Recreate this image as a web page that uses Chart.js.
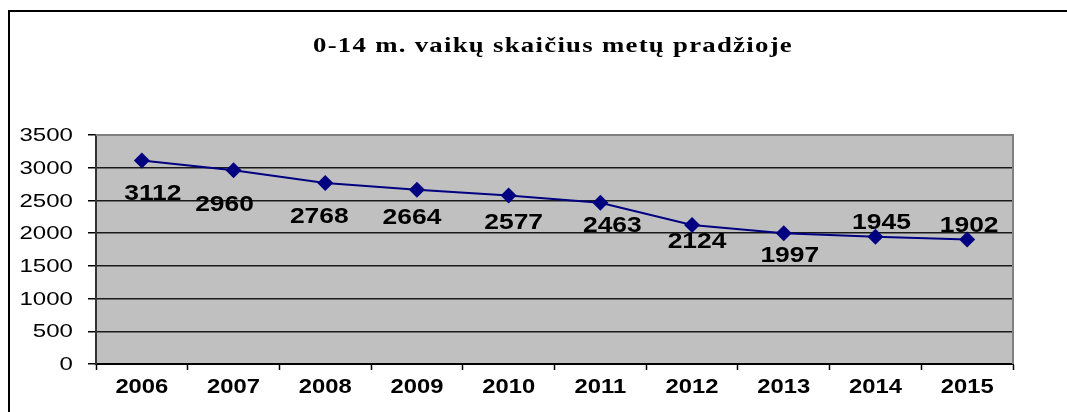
<!DOCTYPE html>
<html>
<head>
<meta charset="utf-8">
<script src="https://cdn.jsdelivr.net/npm/chart.js@4/dist/chart.umd.min.js"></script>
<style>
  html, body { margin: 0; padding: 0; background: #fff; }
  #wrap { width: 1067px; height: 412px; }
</style>
</head>
<body>
<div id="wrap"><canvas id="vaikaiChart"></canvas></div>
<script>
// duomenys
const titleText = '0-14 m. vaikų skaičius metų pradžioje';
const years = ['2006', '2007', '2008', '2009', '2010', '2011', '2012', '2013', '2014', '2015'];
const children = [3112, 2960, 2768, 2664, 2577, 2463, 2124, 1997, 1945, 1902];
const yTicks = [0, 500, 1000, 1500, 2000, 2500, 3000, 3500];

// kur dėti skaičių šalia taško (dx, dy nuo taško centro)
const labelOffsets = [[11, 33], [-9, 34], [-6, 33], [-5, 27], [5, 27], [12, 22], [5, 16], [6, 22], [6, -15], [2, -15]];

const NAVY = '#000080';
const SANS = '"Liberation Sans", Arial, sans-serif';

// tekstas ištemptas horizontaliai, kaip originale
function stretchedText(ctx, text, x, y, font, align, sx) {
    ctx.save();
    ctx.font = font;
    ctx.fillStyle = '#000';
    ctx.textAlign = align;
    ctx.textBaseline = 'middle';
    ctx.translate(x, y);
    ctx.scale(sx, 1);
    ctx.fillText(text, 0, 0);
    ctx.restore();
}

const decorPlugin = {
    id: 'decor',
    beforeDraw(chart) {
        const ctx = chart.ctx;
        const a = chart.chartArea;
        ctx.save();
        ctx.fillStyle = '#fff';
        ctx.fillRect(0, 0, chart.width, chart.height);
        // išorinis rėmelis
        ctx.strokeStyle = '#000';
        ctx.lineWidth = 2;
        ctx.beginPath();
        ctx.moveTo(9, chart.height + 2);
        ctx.lineTo(9, 11);
        ctx.lineTo(chart.width + 2, 11);
        ctx.stroke();
        // pilkas fonas
        ctx.fillStyle = '#c0c0c0';
        ctx.fillRect(a.left, a.top, a.right - a.left, a.bottom - a.top);
        ctx.restore();

        // pavadinimas
        ctx.save();
        ctx.font = 'bold 21px "Liberation Serif", "Times New Roman", serif';
        ctx.letterSpacing = '1px';
        const w = ctx.measureText(titleText).width;
        ctx.restore();
        ctx.save();
        ctx.letterSpacing = '1px';
        stretchedText(ctx, titleText, 553, 47, 'bold 21px "Liberation Serif", "Times New Roman", serif', 'center', 480 / w);
        ctx.restore();
    },
    beforeDatasetsDraw(chart) {
        const ctx = chart.ctx;
        const a = chart.chartArea;
        ctx.save();
        ctx.strokeStyle = '#808080';
        ctx.lineWidth = 2;
        ctx.beginPath();
        ctx.moveTo(a.left, a.top);
        ctx.lineTo(a.right, a.top);
        ctx.lineTo(a.right, a.bottom);
        ctx.stroke();
        ctx.restore();
    },
    afterDraw(chart) {
        const ctx = chart.ctx;
        const xs = chart.scales.x;
        const ys = chart.scales.y;
        // ašių užrašai
        yTicks.forEach(v => {
            stretchedText(ctx, String(v), 73, ys.getPixelForValue(v) + 1, '18.5px ' + SANS, 'right', 1.3);
        });
        years.forEach((yr, i) => {
            stretchedText(ctx, yr, xs.getPixelForValue(i), 388, 'bold 19.5px ' + SANS, 'center', 1.22);
        });
        // reikšmės prie taškų
        const meta = chart.getDatasetMeta(0);
        meta.data.forEach((pt, i) => {
            const off = labelOffsets[i];
            stretchedText(ctx, String(children[i]), pt.x + off[0], pt.y + off[1] + 1, 'bold 22px ' + SANS, 'center', 1.2);
        });
    }
};

const ctx = document.getElementById('vaikaiChart').getContext('2d');
const vaikaiChart = new Chart(ctx, {
    type: 'line',
    data: {
        labels: years,
        datasets: [{
            label: 'Vaikai 0-14 m.',
            data: children,
            borderColor: NAVY,
            backgroundColor: NAVY,
            borderWidth: 2,
            tension: 0,
            pointStyle: 'rectRot',
            pointRadius: 8,
            pointHoverRadius: 8,
            pointBackgroundColor: NAVY,
            pointBorderColor: NAVY,
            pointBorderWidth: 0
        }]
    },
    options: {
        responsive: true,
        maintainAspectRatio: false,
        animation: false,
        layout: {
            padding: { left: 0, right: 54, top: 135, bottom: 0 }
        },
        plugins: {
            legend: { display: false },
            title: { display: false },
            tooltip: { enabled: false }
        },
        scales: {
            x: {
                type: 'category',
                offset: true,
                grid: {
                    offset: true,
                    drawOnChartArea: false,
                    drawTicks: true,
                    tickLength: 6,
                    tickColor: '#000',
                    tickWidth: 1.5
                },
                border: { display: true, color: '#000', width: 2 },
                ticks: { display: false },
                afterFit(scale) { scale.height = 48; }
            },
            y: {
                min: 0,
                max: 3500,
                afterBuildTicks(scale) { scale.ticks = yTicks.map(v => ({ value: v })); },
                grid: {
                    color: (c) => c.tick && c.tick.value === 3500 ? 'rgba(0,0,0,0)' : '#1a1a1a',
                    lineWidth: 1.5,
                    drawTicks: true,
                    tickLength: 8,
                    tickColor: '#000',
                    tickWidth: 1.5
                },
                border: { display: true, color: '#333', width: 2 },
                ticks: { display: false },
                afterFit(scale) { scale.width = 96; }
            }
        }
    },
    plugins: [decorPlugin]
});
</script>
</body>
</html>
